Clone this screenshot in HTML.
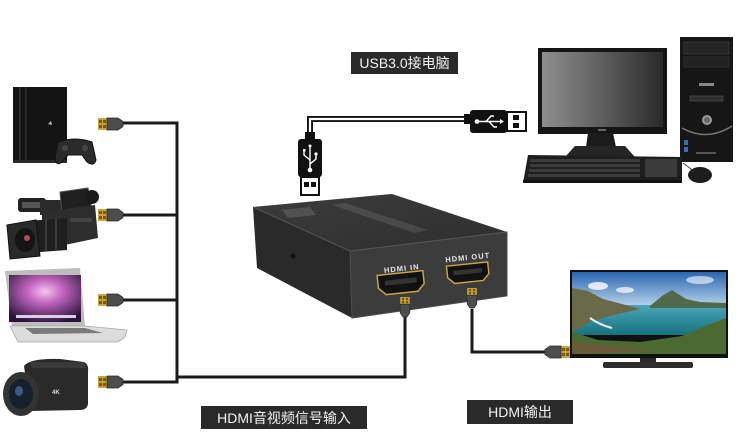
<!DOCTYPE html>
<html><head><meta charset="utf-8"><style>
html,body{margin:0;padding:0;background:#fff;width:745px;height:437px;overflow:hidden}
svg{display:block}
.lbl{font-family:"Liberation Sans","Noto Sans CJK SC",sans-serif;font-size:14px;fill:#f2f2f2}
.port{font-family:"Liberation Sans",sans-serif;font-size:7.5px;font-weight:bold;fill:#e6e6e6;letter-spacing:1px}
</style></head><body>
<svg width="745" height="437" viewBox="0 0 745 437" xmlns="http://www.w3.org/2000/svg">
<defs>
 <g id="conn">
  <rect x="0" y="-6" width="9" height="12" fill="#c9a23a"/>
  <rect x="1" y="-4" width="3" height="3" fill="#7a5a10"/>
  <rect x="5" y="-4" width="3" height="3" fill="#7a5a10"/>
  <rect x="1" y="1" width="3" height="3" fill="#7a5a10"/>
  <rect x="5" y="1" width="3" height="3" fill="#7a5a10"/>
  <path d="M9,-6 H20 L25,-2.5 V2.5 L20,6 H9 Z" fill="#4d4d4d" stroke="#2a2a2a" stroke-width="0.8"/>
 </g>
 <linearGradient id="mon" x1="0" y1="0" x2="1" y2="0">
  <stop offset="0" stop-color="#8e8e8e"/><stop offset="0.5" stop-color="#5e5e5e"/><stop offset="1" stop-color="#2a2a2a"/>
 </linearGradient>
 <linearGradient id="sky" x1="0" y1="0" x2="0" y2="1">
  <stop offset="0" stop-color="#2a66b0"/><stop offset="1" stop-color="#b6d2ea"/>
 </linearGradient>
 <linearGradient id="sea" x1="0" y1="0" x2="0" y2="1">
  <stop offset="0" stop-color="#4aa6b8"/><stop offset="1" stop-color="#17717f"/>
 </linearGradient>
 <radialGradient id="lap" cx="0.5" cy="0.35" r="0.7">
  <stop offset="0" stop-color="#f6c4ef"/><stop offset="0.35" stop-color="#c266c0"/><stop offset="1" stop-color="#2a1238"/>
 </radialGradient>
 <linearGradient id="topf" x1="0" y1="0" x2="1" y2="1">
  <stop offset="0" stop-color="#3c3c3c"/><stop offset="1" stop-color="#2e2e2e"/>
 </linearGradient>
</defs>

<!-- PS4 -->
<rect x="13" y="87" width="54" height="76" fill="#141414"/>
<rect x="19" y="87" width="1.5" height="76" fill="#333"/>
<rect x="25" y="87" width="1.5" height="76" fill="#2c2c2c"/>
<rect x="13" y="160" width="54" height="3" fill="#2a2a2a"/>
<path d="M48,124 l3,-3 l1,4 z" fill="#bbb"/>
<path d="M58,142 Q75,136 92,142 L96,160 Q94,167 87,162 L82,155 H68 L62,162 Q56,167 55,158 Z" fill="#2b2b2b" stroke="#111" stroke-width="1"/>
<circle cx="65" cy="148" r="3" fill="#444"/><circle cx="85" cy="148" r="3" fill="#444"/>

<!-- Pro camcorder -->
<rect x="18" y="198" width="28" height="14" rx="3" fill="#222"/>
<rect x="22" y="202" width="18" height="6" fill="#555"/>
<rect x="40" y="200" width="22" height="15" fill="#2a2a2a"/>
<polygon points="60,192 88,188 92,210 62,214" fill="#202020" stroke="#555" stroke-width="1"/>
<ellipse cx="92" cy="197" rx="7" ry="7" fill="#1a1a1a"/>
<polygon points="42,212 95,205 98,238 60,246 42,240" fill="#2d2d2d"/>
<rect x="70" y="218" width="22" height="4" fill="#444"/>
<polygon points="27,221 67,218 67,250 27,253" fill="#1f1f1f"/>
<rect x="45" y="219" width="2" height="32" fill="#3a3a3a"/><rect x="55" y="218" width="2" height="32" fill="#3a3a3a"/>
<polygon points="7,225 36,220 40,256 10,259" fill="#2a2a2a" stroke="#111" stroke-width="1"/>
<ellipse cx="25" cy="240" rx="10" ry="12" fill="#141414"/>
<circle cx="27" cy="238" r="3" fill="#b84a5a"/>

<!-- Laptop -->
<polygon points="5,271 80,268 85,326 12,326" fill="#bdbdbd"/>
<rect x="9" y="275" width="72" height="47" fill="url(#lap)"/>
<rect x="16" y="315" width="60" height="3" fill="#d8d0e8"/>
<polygon points="10,326 85,326 127,330 125,337 118,342 18,342" fill="#dcdcdc" stroke="#aaa" stroke-width="0.8"/>
<polygon points="25,328 85,328 103,333 33,334" fill="#7a7a7a"/>

<!-- Handycam -->
<path d="M24,366 Q30,358 60,359 L84,362 Q89,364 88,372 L88,404 Q87,410 80,410 L30,411 Z" fill="#2a2a2a"/>
<path d="M30,362 L84,362 L86,368 L32,368 Z" fill="#3a3a3a"/>
<ellipse cx="21" cy="394" rx="18" ry="22" fill="#333"/>
<ellipse cx="21" cy="394" rx="12" ry="15" fill="#15202c"/>
<ellipse cx="19" cy="391" rx="4" ry="5" fill="#3a5a80"/>
<text x="52" y="394" font-family="Liberation Sans,sans-serif" font-size="6" font-weight="bold" fill="#ddd">4K</text>

<!-- Input cables -->
<g fill="none" stroke="#1b1b1b" stroke-width="3">
 <path d="M122,123 H177 V382 H122"/>
 <path d="M122,215 H177"/>
 <path d="M122,300 H177"/>
 <path d="M177,377 H405 V316"/>
 <path d="M472,309 V352 H546"/>
</g>
<use href="#conn" x="98" y="124"/>
<use href="#conn" x="98" y="215"/>
<use href="#conn" x="98" y="300"/>
<use href="#conn" x="98" y="382"/>
<g transform="translate(570,352) scale(-1,1)"><use href="#conn"/></g>

<!-- USB cable -->
<path d="M310,136 V119 H468" fill="none" stroke="#111" stroke-width="6"/>
<path d="M310,136 V119 H468" fill="none" stroke="#fff" stroke-width="2.2"/>
<rect x="305" y="132" width="10" height="9" fill="#111"/>
<rect x="298" y="139" width="24" height="38" rx="3" fill="#111"/>
<g stroke="#fff" stroke-width="1.4" fill="none">
 <path d="M310,146 V170"/><path d="M310,160 L304,155 V151"/><path d="M310,164 L316,159 V155"/>
</g>
<circle cx="310" cy="170" r="2.3" fill="#fff"/><circle cx="310" cy="146" r="1.5" fill="#fff"/>
<rect x="303" y="149" width="2.5" height="2.5" fill="#fff"/><circle cx="316" cy="154" r="1.6" fill="#fff"/>
<rect x="301" y="177" width="18" height="18" fill="#fff" stroke="#111" stroke-width="2"/>
<rect x="304" y="182" width="5" height="5" fill="#111"/><rect x="311" y="182" width="5" height="5" fill="#111"/>

<rect x="464" y="114" width="8" height="10" fill="#111"/>
<rect x="470" y="110" width="37" height="23" rx="3" fill="#111"/>
<g stroke="#fff" stroke-width="1.4" fill="none">
 <path d="M477,121.5 H500"/><path d="M486,121.5 L491,116 H494"/><path d="M489,121.5 L494,127 H497"/>
</g>
<circle cx="477" cy="121.5" r="2.3" fill="#fff"/><polygon points="500,119 504,121.5 500,124" fill="#fff"/>
<rect x="507" y="112" width="19" height="19" fill="#fff" stroke="#111" stroke-width="2"/>
<rect x="513" y="115" width="6" height="5" fill="#111"/><rect x="513" y="123" width="6" height="5" fill="#111"/>

<!-- Computer -->
<rect x="680" y="37" width="53" height="125" fill="#161616"/>
<rect x="684" y="42" width="45" height="12" fill="#262626" stroke="#3a3a3a" stroke-width="0.8"/>
<rect x="684" y="57" width="45" height="10" fill="#222" stroke="#333" stroke-width="0.8"/>
<rect x="699" y="83" width="15" height="3" fill="#888"/>
<rect x="690" y="96" width="33" height="5" fill="#2e2e2e" stroke="#555" stroke-width="0.6"/>
<circle cx="707" cy="120" r="5" fill="#9a9a9a"/><circle cx="707" cy="120" r="3" fill="#666"/>
<path d="M682,128 Q707,142 732,126" fill="none" stroke="#777" stroke-width="1.5"/>
<rect x="684" y="140" width="4" height="5" fill="#3a6ab0"/><rect x="684" y="147" width="4" height="5" fill="#3a6ab0"/>
<rect x="696" y="152" width="20" height="2" fill="#555"/>
<rect x="538" y="48" width="129" height="86" fill="#151515"/>
<rect x="542" y="52" width="121" height="75" fill="url(#mon)"/>
<rect x="598" y="129" width="8" height="2" fill="#666"/>
<polygon points="588,133 613,133 616,147 586,147" fill="#1c1c1c"/>
<polygon points="575,146 625,146 635,157 565,157" fill="#252525"/>
<polygon points="528,155 682,157 682,183 523,183" fill="#1e1e1e"/>
<g fill="#3b3b3b">
 <rect x="530" y="159" width="110" height="3"/><rect x="530" y="164" width="110" height="3"/>
 <rect x="529" y="169" width="111" height="3"/><rect x="528" y="174" width="112" height="3"/>
 <rect x="645" y="159" width="32" height="18"/>
</g>
<rect x="523" y="180" width="159" height="3" fill="#111"/>
<ellipse cx="700" cy="175" rx="12" ry="8" fill="#1d1d1d"/>
<path d="M683,163 Q690,168 692,170" fill="none" stroke="#444" stroke-width="1"/>

<!-- Capture box -->
<polygon points="253,207 392,194 507,232 350,251" fill="url(#topf)"/>
<polygon points="253,207 350,251 352,318 257,268" fill="#2a2a2a"/>
<polygon points="350,251 507,232 507,296 352,318" fill="#3c3c3c" stroke="#4e4e4e" stroke-width="1"/>
<path d="M253,207 L350,251 L507,232" fill="none" stroke="#555" stroke-width="1"/>
<polygon points="282,210 310,207 316,215 288,218" fill="#8a8a8a" opacity="0.3"/>
<polygon points="332,205 345,203 428,230 415,233" fill="#7a7a7a" opacity="0.3"/>
<circle cx="293" cy="256" r="2.5" fill="#111"/>
<g transform="translate(401,283) rotate(-6)">
 <path d="M-23,-10 H23 V3 L16,10 H-16 L-23,3 Z" fill="#111" stroke="#c9a545" stroke-width="1.5"/>
 <rect x="-16" y="-4" width="32" height="5" fill="#333"/>
</g>
<text class="port" text-anchor="middle" transform="translate(402,271) rotate(-6)">HDMI IN</text>
<g transform="translate(468,273) rotate(-6) scale(0.9)">
 <path d="M-23,-10 H23 V3 L16,10 H-16 L-23,3 Z" fill="#111" stroke="#c9a545" stroke-width="1.6"/>
 <rect x="-16" y="-4" width="32" height="5" fill="#333"/>
</g>
<text class="port" text-anchor="middle" transform="translate(468,260) rotate(-6)">HDMI OUT</text>

<!-- Box connectors (on top of box) -->
<g transform="translate(405,297) rotate(90) scale(0.8)"><use href="#conn"/></g>
<g transform="translate(472,288) rotate(90) scale(0.8)"><use href="#conn"/></g>

<!-- TV -->
<rect x="570" y="270" width="158" height="88" fill="#111"/>
<rect x="572" y="272" width="154" height="34" fill="url(#sky)"/>
<ellipse cx="598" cy="286" rx="10" ry="4" fill="#fff" opacity="0.8"/>
<ellipse cx="625" cy="290" rx="9" ry="3" fill="#fff" opacity="0.7"/>
<ellipse cx="700" cy="280" rx="14" ry="4" fill="#fff" opacity="0.6"/>
<rect x="572" y="305" width="154" height="30" fill="url(#sea)"/>
<polygon points="650,306 662,296 672,290 686,299 700,302 726,303 726,308 650,308" fill="#4f6a4a"/>
<polygon points="572,288 588,291 603,299 622,304 640,309 610,316 590,322 572,332" fill="#6b6a48"/>
<path d="M590,318 Q600,325 612,328" fill="none" stroke="#e8f2f2" stroke-width="2"/>
<polygon points="572,332 598,340 640,342 682,336 705,326 726,318 726,354 572,354" fill="#4a6a32"/>
<polygon points="572,342 610,346 660,350 572,354" fill="#6b5a3a"/>
<rect x="640" y="358" width="16" height="4" fill="#2a2a2a"/>
<rect x="603" y="362" width="90" height="6" rx="2" fill="#2e2e2e"/>

<!-- Labels -->
<rect x="351" y="52" width="107" height="22" fill="#2a2a2a"/>
<text class="lbl" x="404.5" y="68" text-anchor="middle">USB3.0接电脑</text>
<rect x="201" y="406" width="166" height="23" fill="#2a2a2a"/>
<text class="lbl" x="284" y="423" text-anchor="middle">HDMI音视频信号输入</text>
<rect x="467" y="400" width="106" height="24" fill="#2a2a2a"/>
<text class="lbl" x="520" y="417" text-anchor="middle">HDMI输出</text>
</svg>
</body></html>
